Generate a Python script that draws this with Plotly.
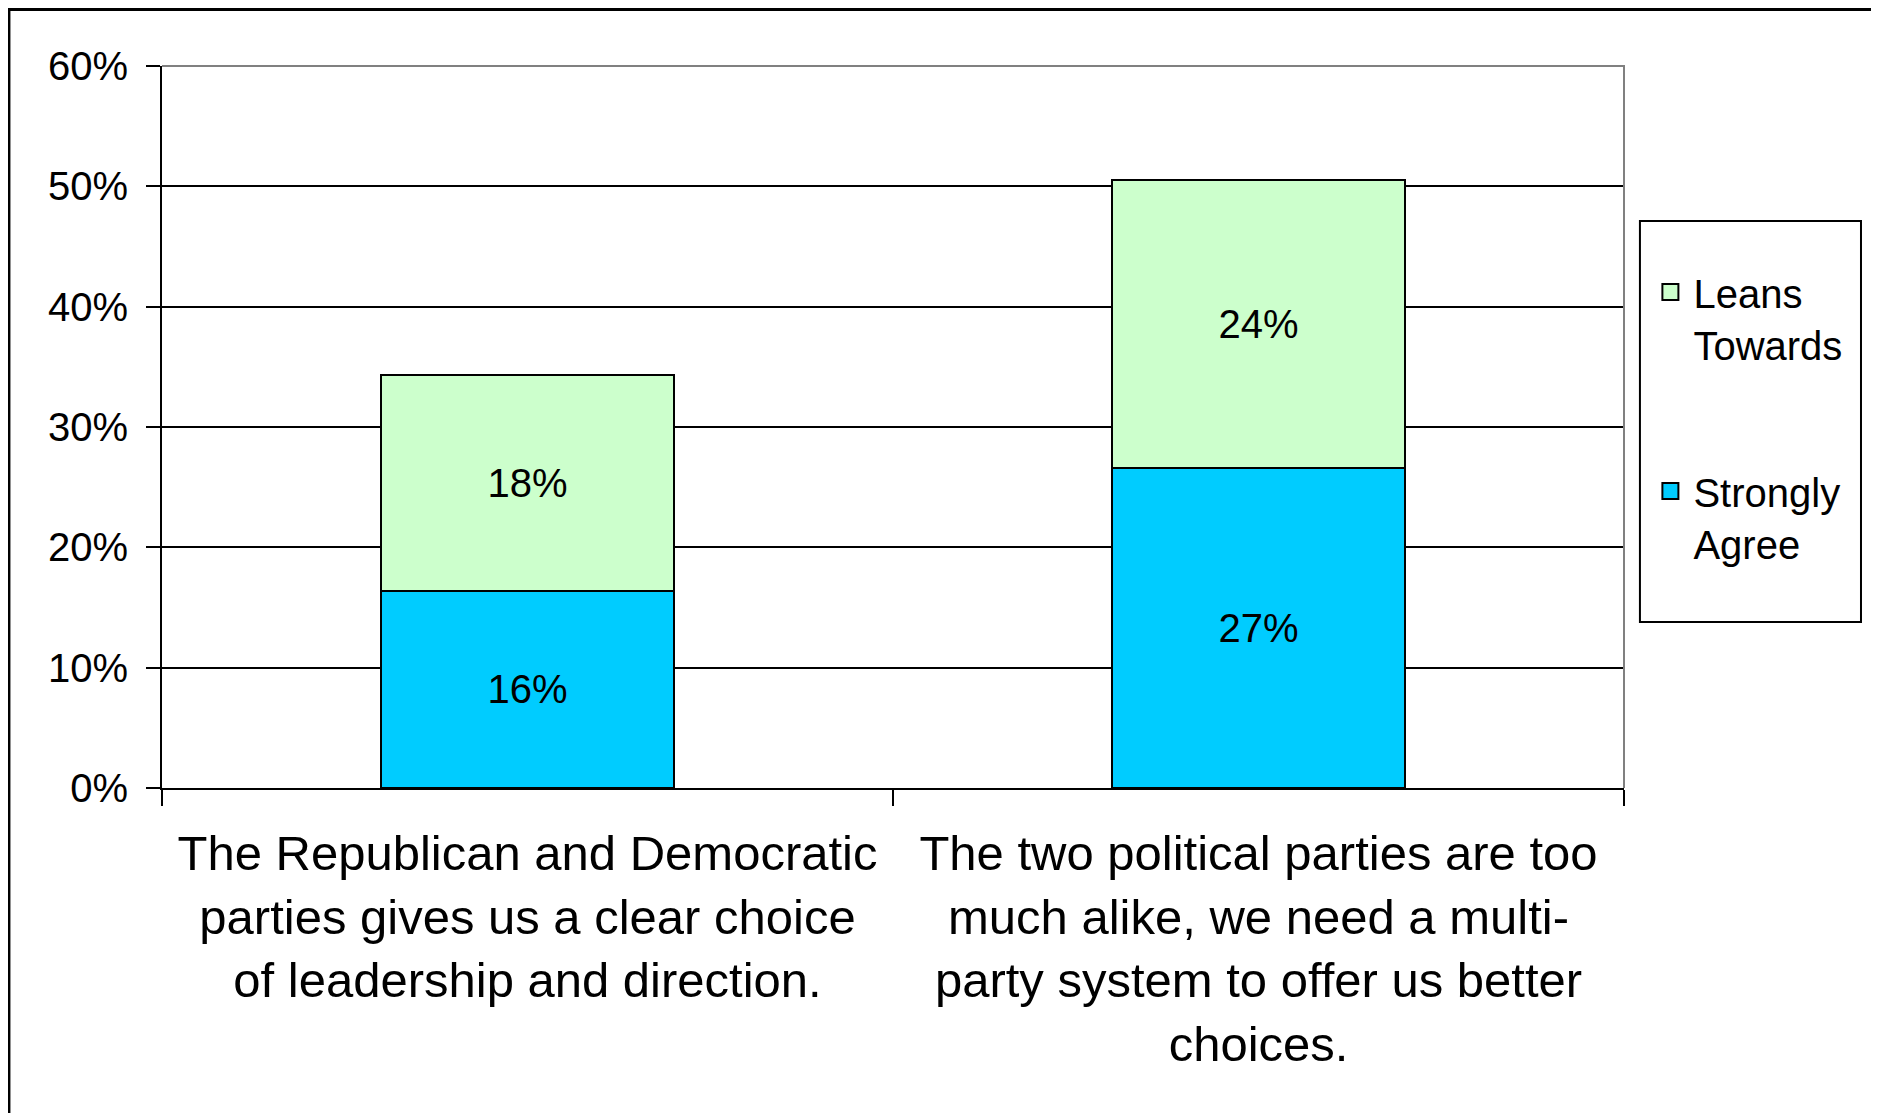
import plotly.graph_objects as go

categories = [
    "The Republican and Democratic<br>parties gives us a clear choice<br>of leadership and direction.",
    "The two political parties are too<br>much alike, we need a multi-<br>party system to offer us better<br>choices.",
]
strongly_agree = [16.4, 26.6]
leans_towards = [17.9, 23.9]
series_names = ["Strongly<br>Agree", "Leans<br>Towards"]
series_colors = ["#00CCFF", "#CCFFCC"]
y_ticks = [0, 10, 20, 30, 40, 50, 60]
y_tick_labels = ["0%", "10%", "20%", "30%", "40%", "50%", "60%"]

FONT = "Liberation Sans, Arial, sans-serif"

fig = go.Figure()
for vals, name, color in [(strongly_agree, series_names[0], series_colors[0]),
                          (leans_towards, series_names[1], series_colors[1])]:
    fig.add_trace(go.Bar(
        x=categories, y=vals, name=name, showlegend=False,
        marker=dict(color=color, line=dict(color="black", width=2)),
        texttemplate="%{y:.0f}%", textposition="inside", insidetextanchor="middle",
        textangle=0, textfont=dict(size=40, color="black", family=FONT),
        hovertemplate="%{y}%<extra></extra>",
    ))

# legend entries (Leans on top, Strongly below), larger square swatches
for rank, (name, color) in enumerate([(series_names[1], series_colors[1]),
                                      (series_names[0], series_colors[0])]):
    fig.add_trace(go.Scatter(
        x=[None], y=[None], mode="markers", name=name,
        legendgroup=f"g{rank}", legendrank=rank + 1,
        marker=dict(symbol="square", size=22, color=color, line=dict(color="black", width=2)),
    ))

fig.update_layout(
    width=1871, height=1105,
    margin=dict(l=154, r=255, t=58, b=325, autoexpand=False),
    paper_bgcolor="white", plot_bgcolor="white",
    barmode="stack", bargap=0.6,
    font=dict(family=FONT, size=40, color="black"),
    showlegend=True,
    legend=dict(
        x=1.016, y=0.732, xanchor="left", yanchor="top",
        traceorder="grouped", tracegroupgap=92, valign="top",
        itemsizing="trace", itemwidth=36,
        font=dict(size=40, family=FONT, color="black"),
        bgcolor="rgba(0,0,0,0)", borderwidth=0,
    ),
    xaxis=dict(
        showline=True, linecolor="black", linewidth=2,
        ticks="outside", ticklen=16, tickwidth=2, tickcolor="black",
        tickson="boundaries", showgrid=False,
        tickfont=dict(size=49, family=FONT, color="black"),
        ticklabelstandoff=21,
    ),
    yaxis=dict(
        range=[0, 60], tickmode="array", tickvals=y_ticks, ticktext=y_tick_labels,
        showline=True, linecolor="black", linewidth=2,
        ticks="outside", ticklen=14, tickwidth=2, tickcolor="black",
        showgrid=True, gridcolor="black", gridwidth=2, zeroline=False,
        tickfont=dict(size=40, family=FONT, color="black"),
        ticklabelstandoff=10,
    ),
    shapes=[
        # gray top/right plot frame
        dict(type="path", xref="paper", yref="paper", path="M 0 1 L 1 1 L 1 0",
             line=dict(color="#808080", width=2), layer="above"),
        # legend box
        dict(type="rect", xref="paper", yref="paper", x0=1.0109, x1=1.1621, y0=0.2299, y1=0.7853,
             line=dict(color="black", width=2), fillcolor="rgba(0,0,0,0)", layer="above"),
        # outer chart border
        dict(type="rect", xref="paper", yref="paper", x0=-0.1047, x1=1.1703, y0=-0.47, y1=1.0783,
             line=dict(color="black", width=3), fillcolor="rgba(0,0,0,0)", layer="above"),
    ],
)

fig.write_html("out.html")
